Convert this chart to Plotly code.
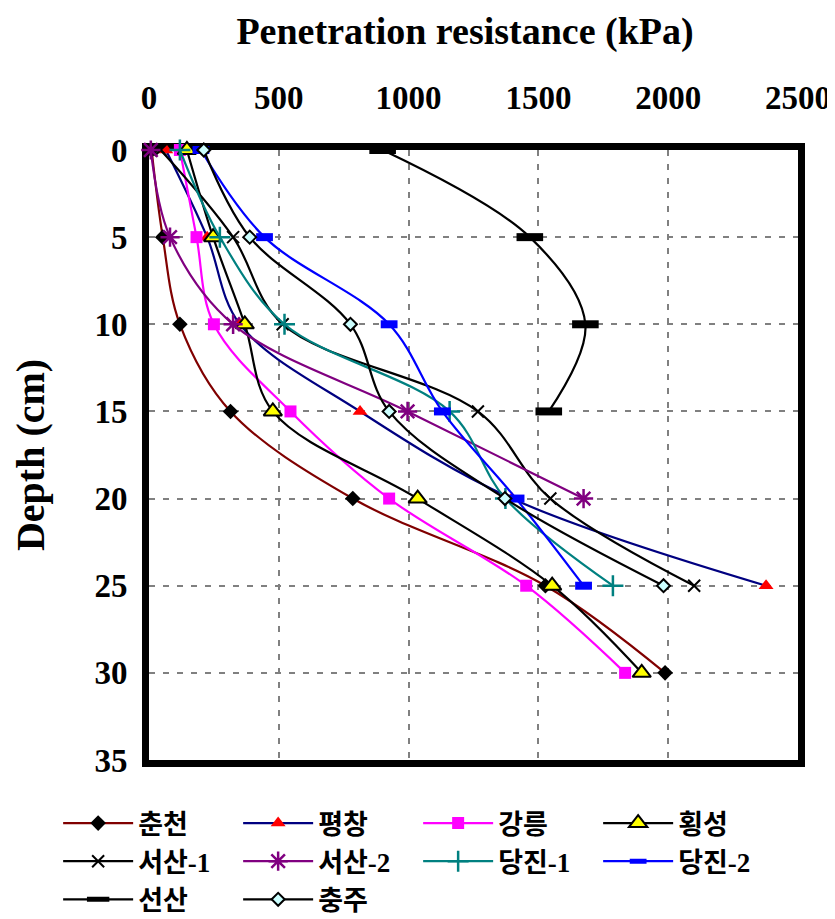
import plotly.graph_objects as go

# depth (cm) for each site, penetration resistance in kPa
depth_7 = [0, 5, 10, 15, 20, 25, 30]
depth_6 = [0, 5, 10, 15, 20, 25]
depth_5 = [0, 5, 10, 15, 20]
depth_4 = [0, 5, 10, 15]

chuncheon = [10, 53, 119, 314, 785, 1527, 1988]
pyeongchang = [65, 224, 350, 813, 1398, 2377]
gangneung = [119, 183, 250, 545, 925, 1453, 1834]
hoengseong = [146, 247, 369, 477, 1035, 1553, 1898]
seosan1 = [45, 324, 515, 1267, 1546, 2100]
seosan2 = [7, 81, 324, 996, 1674]
dangjin1 = [119, 273, 522, 1158, 1373, 1787]
dangjin2 = [200, 445, 925, 1130, 1414, 1674]
seonsan = [900, 1467, 1681, 1540]
chungju = [211, 388, 776, 925, 1371, 1982]

x_ticks = [0, 500, 1000, 1500, 2000, 2500]
y_ticks = [0, 5, 10, 15, 20, 25, 30, 35]

SERIF = "Liberation Serif, Times New Roman, serif"
KR = "Liberation Serif, Noto Sans CJK KR, sans-serif"

# name, x values, depths, line colour, marker dict
series = [
    ("춘천", chuncheon, depth_7, "#800000",
     dict(symbol="diamond", size=12, color="black")),
    ("평창", pyeongchang, depth_6, "#000080",
     dict(symbol="triangle-up", size=13, color="red")),
    ("강릉", gangneung, depth_7, "#FF00FF",
     dict(symbol="square", size=12, color="#FF00FF")),
    ("횡성", hoengseong, depth_7, "black",
     dict(symbol="triangle-up", size=16, color="#FFFF00",
          line=dict(color="black", width=2))),
    ("서산-1", seosan1, depth_6, "black",
     dict(symbol="x-thin", size=12, color="black",
          line=dict(color="black", width=2))),
    ("서산-2", seosan2, depth_5, "#800080",
     dict(symbol="asterisk", size=16, color="#800080",
          line=dict(color="#800080", width=2.5))),
    ("당진-1", dangjin1, depth_6, "#008080",
     dict(symbol="cross-thin", size=15, color="#008080",
          line=dict(color="#008080", width=2.5))),
    ("당진-2", dangjin2, depth_6, "#0000FF",
     dict(symbol="line-ew", size=12, color="#0000FF",
          line=dict(color="#0000FF", width=8))),
    ("선산", seonsan, depth_4, "black",
     dict(symbol="line-ew", size=19, color="black",
          line=dict(color="black", width=8))),
    ("충주", chungju, depth_6, "black",
     dict(symbol="diamond", size=10, color="#CCFFFF",
          line=dict(color="black", width=2))),
]

fig = go.Figure()
for name, xs, ys, col, mk in series:
    fig.add_trace(go.Scatter(
        x=xs, y=ys, name=name, mode="lines+markers",
        line=dict(color=col, width=2.2, shape="spline", smoothing=1),
        marker=mk, cliponaxis=False,
    ))

axis_common = dict(
    showline=True, linewidth=7, linecolor="black", mirror=True,
    showgrid=True, gridcolor="#808080", gridwidth=1.5, griddash="6px,8px",
    zeroline=False, ticks="", layer="below traces", automargin=False,
    tickfont=dict(family=SERIF, size=33, color="black", weight="bold"),
)

# page body has an 8px margin, so the figure is 8px smaller than the window
fig.update_layout(
    width=827, height=911,
    margin=dict(l=141, r=37, t=142, b=159, autoexpand=False),
    plot_bgcolor="white", paper_bgcolor="white",
    title=dict(text="<b>Penetration resistance (kPa)</b>",
               font=dict(family=SERIF, size=38, color="black"),
               x=0.487, xref="paper", xanchor="center",
               y=0.975, yanchor="middle"),
    xaxis=dict(axis_common, side="top", range=[0, 2500], tickvals=x_ticks,
               ticklabelstandoff=21),
    yaxis=dict(axis_common, range=[35, 0], tickvals=y_ticks,
               ticklabelstandoff=8,
               title=dict(text="<b>Depth (cm)</b>", standoff=41,
                          font=dict(family=SERIF, size=40, color="black"))),
    legend=dict(orientation="h", x=-0.140, xanchor="left", y=-0.064,
                yanchor="top", entrywidth=95, entrywidthmode="pixels",
                font=dict(family=KR, size=27, color="black", weight="bold"),
                tracegroupgap=0, itemwidth=70, bgcolor="rgba(0,0,0,0)"),
    showlegend=True,
)

fig.write_html("out.html")
